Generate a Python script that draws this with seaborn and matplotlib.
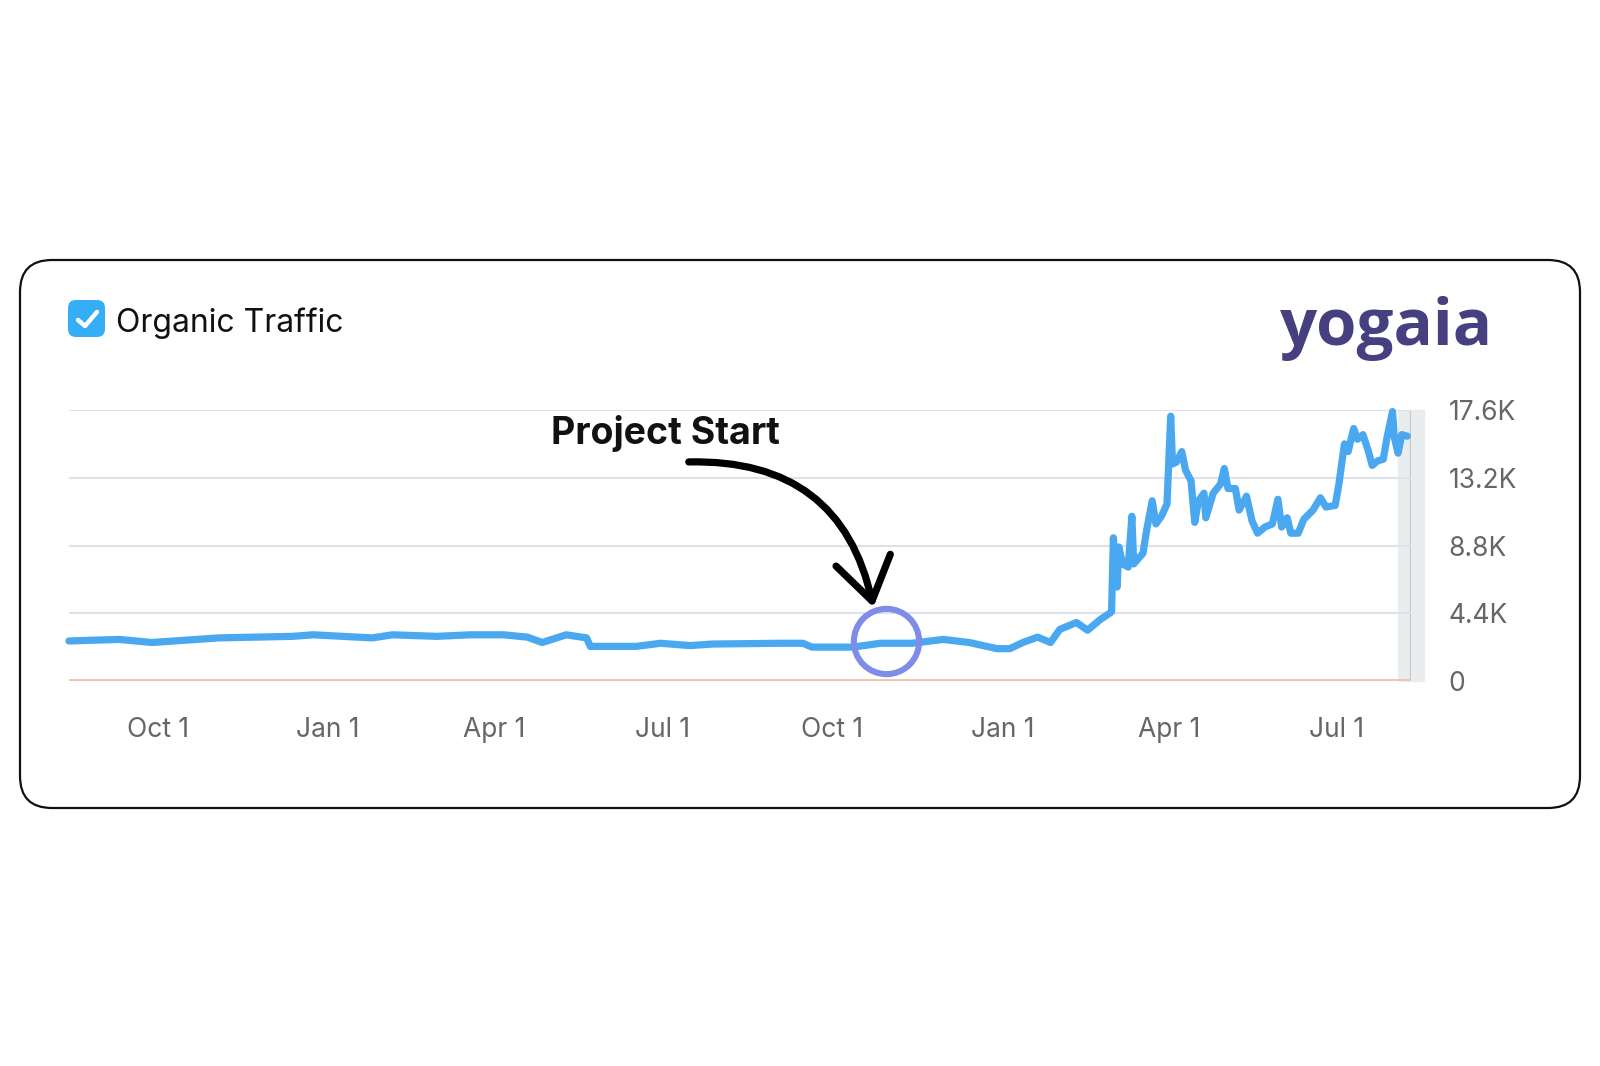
import pandas as pd
import matplotlib
matplotlib.use('Agg')
import matplotlib.pyplot as plt
import seaborn as sns
from matplotlib.patches import FancyBboxPatch, FancyArrowPatch
from matplotlib.lines import Line2D

# organic traffic (visits per day)
dates = ['2021-08-14', '2021-09-10', '2021-09-28', '2021-11-03', '2021-12-13', '2021-12-24',
         '2022-01-25', '2022-02-05', '2022-03-01', '2022-03-19', '2022-04-06', '2022-04-19',
         '2022-04-27', '2022-05-10', '2022-05-21', '2022-05-23', '2022-06-17', '2022-06-30',
         '2022-07-16', '2022-07-28', '2022-09-03', '2022-09-15', '2022-09-20', '2022-10-12',
         '2022-10-27', '2022-11-13', '2022-11-30', '2022-12-14', '2022-12-29', '2023-01-05',
         '2023-01-12', '2023-01-20', '2023-01-27', '2023-02-01', '2023-02-10', '2023-02-16',
         '2023-02-23', '2023-02-28', '2023-03-01', '2023-03-02', '2023-03-04', '2023-03-05',
         '2023-03-07', '2023-03-10', '2023-03-12', '2023-03-13', '2023-03-18', '2023-03-20',
         '2023-03-23', '2023-03-25', '2023-03-28', '2023-03-31', '2023-04-02', '2023-04-03',
         '2023-04-05', '2023-04-08', '2023-04-10', '2023-04-13', '2023-04-15', '2023-04-17',
         '2023-04-20', '2023-04-21', '2023-04-25', '2023-04-29', '2023-05-01', '2023-05-03',
         '2023-05-07', '2023-05-09', '2023-05-13', '2023-05-16', '2023-05-19', '2023-05-23',
         '2023-05-27', '2023-05-30', '2023-06-01', '2023-06-04', '2023-06-06', '2023-06-10',
         '2023-06-13', '2023-06-18', '2023-06-22', '2023-06-25', '2023-06-30', '2023-07-02',
         '2023-07-05', '2023-07-07', '2023-07-10', '2023-07-12', '2023-07-15', '2023-07-18',
         '2023-07-20', '2023-07-23', '2023-07-26', '2023-07-28', '2023-07-31', '2023-08-01',
         '2023-08-03', '2023-08-05', '2023-08-08']
traffic = [2600, 2700, 2500, 2800, 2900, 3000,
           2800, 3000, 2900, 3000, 3000, 2850,
           2500, 3000, 2800, 2250, 2250, 2450,
           2300, 2400, 2450, 2450, 2200, 2200,
           2450, 2450, 2700, 2500, 2100, 2100,
           2500, 2850, 2500, 3350, 3800, 3300,
           4000, 4400, 4500, 9300, 6100, 8700,
           7600, 7400, 10700, 7600, 8300, 9800,
           11700, 10200, 10700, 11500, 17200, 14100,
           14200, 14900, 13700, 13000, 10300, 11700,
           12200, 10600, 12200, 12800, 13800, 12500,
           12500, 11100, 12000, 10400, 9600, 10000,
           10200, 11800, 10000, 10600, 9600, 9600,
           10500, 11100, 11900, 11300, 11400, 12800,
           15400, 14900, 16400, 15700, 16000, 14900,
           14000, 14300, 14400, 15800, 17500, 15800,
           14800, 16000, 15900]

tick_dates = ['2021-10-01', '2022-01-01', '2022-04-01', '2022-07-01',
              '2022-10-01', '2023-01-01', '2023-04-01', '2023-07-01']
tick_labels = ['Oct 1', 'Jan 1', 'Apr 1', 'Jul 1', 'Oct 1', 'Jan 1', 'Apr 1', 'Jul 1']
y_ticks = [0, 4400, 8800, 13200, 17600]
y_labels = ['0', '4.4K', '8.8K', '13.2K', '17.6K']

project_start = ('2022-10-30', 2600)

df = pd.DataFrame({'date': pd.to_datetime(dates), 'traffic': traffic})

sns.set_theme(style='white')
plt.rcParams['font.family'] = ['Inter', 'DejaVu Sans']

W, H = 1600, 1066
fig = plt.figure(figsize=(W / 100, H / 100), dpi=100)


def px(x, y):
    # image pixel -> figure fraction
    return x / W, 1 - y / H


# card frame, kept behind the axes
fig.add_artist(FancyBboxPatch(px(20, 808), 1560 / W, 548 / H,
                              boxstyle='round,pad=0,rounding_size=0.02',
                              transform=fig.transFigure, fc='white', ec='#111111', lw=1.6,
                              mutation_aspect=W / H, zorder=-5))

ax = fig.add_axes([69 / W, 1 - 681 / H, (1411 - 69) / W, (681 - 410) / H])
ax.set_facecolor('none')

# incomplete data band at the right edge
ax.axvspan(pd.Timestamp('2023-08-03'), pd.Timestamp('2023-08-17'), color='#e9eded', zorder=0,
           clip_on=False)
ax.axvline(pd.Timestamp('2023-08-10'), color='#c3c8c8', lw=1.6, zorder=1)

for v in y_ticks[1:]:
    ax.axhline(v, color='#e0e0ea', lw=1.5, zorder=1)
ax.axhline(0, color='#f3c3ad', lw=3.5, zorder=1)

sns.lineplot(data=df, x='date', y='traffic', ax=ax, color='#4aa8f0', lw=5.2, zorder=3,
             clip_on=False)

ax.plot(pd.Timestamp(project_start[0]), project_start[1], 'o', ms=47, mfc='none',
        mec='#7f8ce8', mew=4.4, zorder=4, clip_on=False)

ax.set_xlim(pd.Timestamp('2021-08-14'), pd.Timestamp('2023-08-10'))
ax.set_ylim(0, 17600)
ax.set_xticks(pd.to_datetime(tick_dates))
ax.set_xticklabels(tick_labels)
ax.yaxis.tick_right()
ax.set_yticks(y_ticks)
ax.set_yticklabels(y_labels)
ax.tick_params(axis='x', length=0, pad=26, labelsize=19, labelcolor='#666666')
ax.tick_params(axis='y', length=0, pad=27, labelsize=19, labelcolor='#666666')
ax.set_xlabel('')
ax.set_ylabel('')
sns.despine(ax=ax, left=True, bottom=True, right=True, top=True)

# legend checkbox
fig.add_artist(FancyBboxPatch(px(68, 337), 37 / W, 37 / H,
                              boxstyle='round,pad=0,rounding_size=0.005',
                              transform=fig.transFigure, fc='#36aef7', ec='none',
                              mutation_aspect=W / H))
cx, cy = zip(px(78, 320), px(85, 326), px(97, 312))
fig.add_artist(Line2D(cx, cy, transform=fig.transFigure, color='white', lw=3.2,
                      solid_capstyle='round', solid_joinstyle='round'))
fig.text(*px(116, 332), 'Organic Traffic', fontsize=23, color='#111111', va='baseline')

fig.text(*px(1280, 345), 'yogaia', fontsize=47, fontweight='bold', color='#463f80',
         family=['Open Sans', 'DejaVu Sans'], va='baseline')

fig.text(*px(551, 444), 'Project Start', fontsize=27, fontweight='bold', color='#111111',
         va='baseline')

fig.add_artist(FancyArrowPatch(px(686, 462), px(874, 610), transform=fig.transFigure,
                               connectionstyle='arc3,rad=-0.42',
                               arrowstyle='->,head_length=1.5,head_width=1.0',
                               mutation_scale=20, color='black', lw=5.2,
                               capstyle='round', joinstyle='round'))

fig.savefig('out.png', dpi=100, facecolor='white')
